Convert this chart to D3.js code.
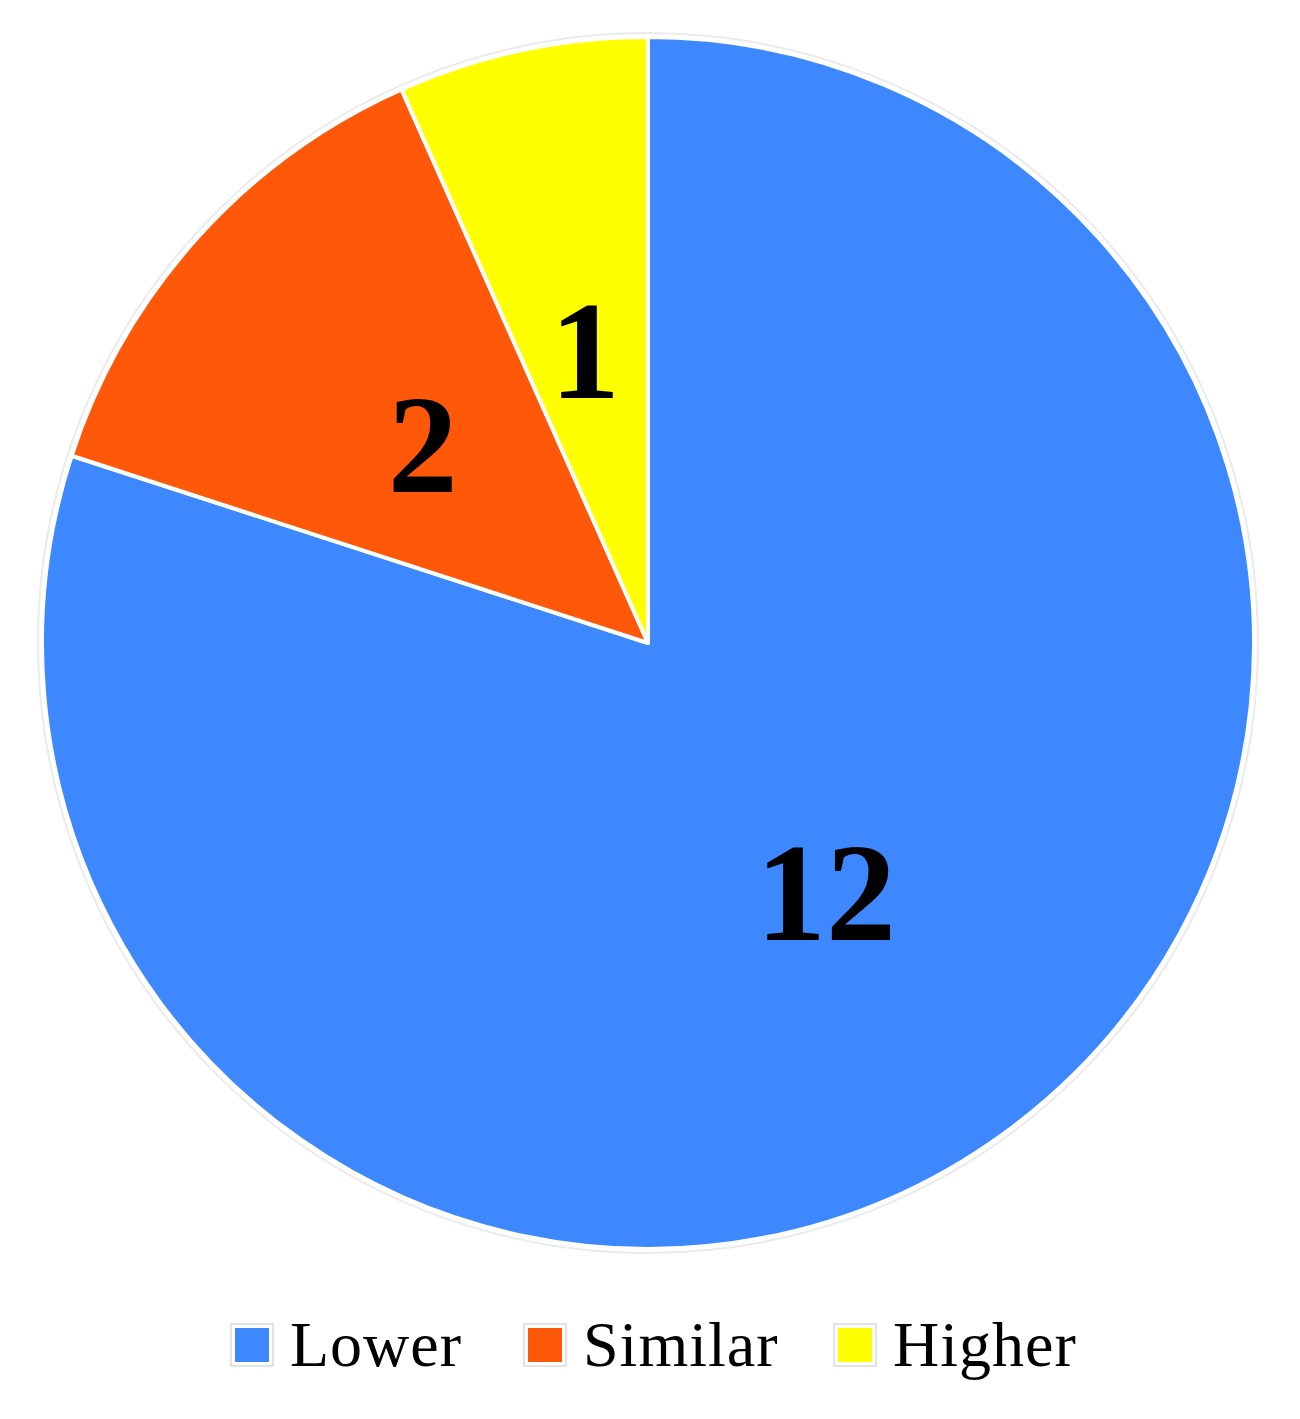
<!DOCTYPE html>
<html>
<head>
<meta charset="utf-8">
<script src="https://cdn.jsdelivr.net/npm/d3@7"></script>
<style>
  body { margin: 0; background: #fff; }
  text { font-family: "Palatino Linotype", "Book Antiqua", Palatino, "Liberation Serif", serif; }
</style>
</head>
<body>
<div id="chart"></div>
<script>
var categories = ["Lower", "Similar", "Higher"];
var values = [12, 2, 1];
var colors = ["#3d88ff", "#ff5808", "#ffff00"];

var width = 1300, height = 1419;
var cx = 648, cy = 643, radius = 606;

var svg = d3.select("#chart").append("svg")
    .attr("width", width)
    .attr("height", height);

var data = categories.map(function(c, i) { return { name: c, value: values[i], color: colors[i] }; });

var pie = d3.pie()
    .sort(null)
    .value(function(d) { return d.value; });

var arc = d3.arc().innerRadius(0).outerRadius(radius);

var g = svg.append("g").attr("transform", "translate(" + cx + "," + cy + ")");

// faint outer ring
g.append("circle")
    .attr("r", radius + 4)
    .style("fill", "none")
    .style("stroke", "#ebebeb")
    .style("stroke-width", 2);

var slices = g.selectAll(".slice")
    .data(pie(data))
    .enter().append("g")
      .attr("class", "slice");

slices.append("path")
    .attr("d", arc)
    .style("fill", function(d) { return d.data.color; })
    .style("stroke", "#fff")
    .style("stroke-width", 4)
    .style("stroke-linejoin", "round");

slices.append("text")
    .attr("transform", function(d) {
      var c = arc.centroid(d);
      return "translate(" + c[0] + "," + c[1] + ")";
    })
    .attr("text-anchor", "middle")
    .attr("dy", "0.37em")
    .style("font-size", "140px")
    .style("font-weight", "bold")
    .style("fill", "#000")
    .text(function(d) { return d.data.value; });

// legend
var legendX = [233, 526, 836];
var legend = svg.append("g").attr("class", "legend");

var item = legend.selectAll(".item")
    .data(data)
    .enter().append("g")
      .attr("class", "item")
      .attr("transform", function(d, i) { return "translate(" + legendX[i] + ",1326)"; });

item.append("rect")
    .attr("x", -2).attr("y", -2)
    .attr("width", 42).attr("height", 42)
    .style("fill", "#fff")
    .style("stroke", "#dadada")
    .style("stroke-width", 1.5);

item.append("rect")
    .attr("x", 2).attr("y", 2)
    .attr("width", 34).attr("height", 34)
    .style("fill", function(d) { return d.color; });

item.append("text")
    .attr("x", 57)
    .attr("y", 40)
    .style("font-size", "64px")
    .style("letter-spacing", "1px")
    .style("fill", "#000")
    .text(function(d) { return d.name; });
</script>
</body>
</html>
